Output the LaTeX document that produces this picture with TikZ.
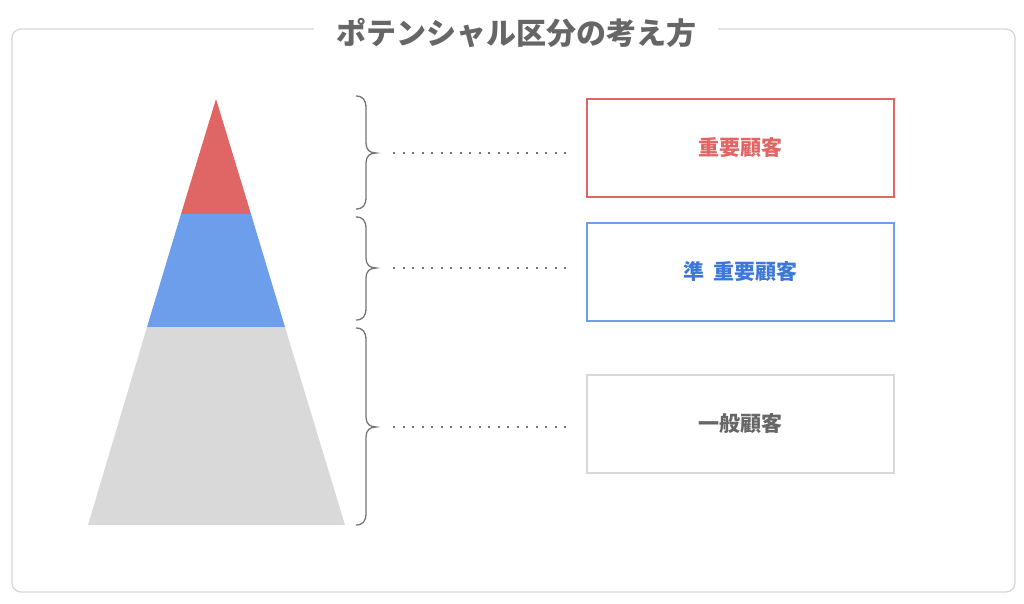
\documentclass[tikz,border=0pt]{standalone}
\usepackage{fontspec}
\newfontfamily\cjk{Noto Sans CJK JP}
\usetikzlibrary{calc}
\definecolor{cred}{HTML}{E06666}
\definecolor{cblue}{HTML}{6D9EEB}
\definecolor{cbluetext}{HTML}{3C78D8}
\definecolor{cgray}{HTML}{D9D9D9}
\definecolor{ctext}{HTML}{666666}
\definecolor{cframe}{HTML}{D6D6D6}
\tikzset{
  catbox/.style={draw=#1, line width=2pt, minimum width=307pt, minimum height=98pt, inner sep=0pt, font=\cjk\bfseries\fontsize{21}{25}\selectfont},
  bracepath/.style={draw=ctext!90, line width=1.3pt},
  dotline/.style={draw=ctext!90, line width=2.4pt, dash pattern=on 2.2pt off 7.3pt},
}
\begin{document}
\begin{tikzpicture}[x=1pt,y=-1pt]
\useasboundingbox (0,0) rectangle (1024,603);
% outer frame
\draw[cframe, line width=1.3pt, rounded corners=9pt] (12,29) rectangle (1015,592);
\node[fill=white, inner xsep=22pt, inner ysep=4pt, text=ctext, font=\cjk\bfseries\fontsize{30}{35}\selectfont] (title) at (516,33) {ポテンシャル区分の考え方};
% pyramid
\fill[cred] (216,99) -- (251,214) -- (181,214) -- cycle;
\fill[cblue] (181,214) -- (251,214) -- (285,327) -- (147,327) -- cycle;
\fill[cgray] (147,327) -- (285,327) -- (345,525) -- (88,525) -- cycle;
% braces
\draw[bracepath] (356,96) .. controls (363,96) and (366,100) .. (366,108) -- (366,143) .. controls (366,150) and (370,153) .. (376,153) .. controls (370,153) and (366,156) .. (366,163) -- (366,197) .. controls (366,205) and (363,209) .. (356,209);
\draw[bracepath] (356,217) .. controls (363,217) and (366,221) .. (366,229) -- (366,258) .. controls (366,265) and (370,268) .. (376,268) .. controls (370,268) and (366,271) .. (366,278) -- (366,308) .. controls (366,316) and (363,320) .. (356,320);
\draw[bracepath] (356,328) .. controls (363,328) and (366,332) .. (366,340) -- (366,417) .. controls (366,424) and (370,427) .. (376,427) .. controls (370,427) and (366,430) .. (366,437) -- (366,513) .. controls (366,521) and (363,525) .. (356,525);
% boxes
\node[catbox=cred, text=cred] (b1) at (740.5,148) {重要顧客};
\node[catbox=cblue, text=cbluetext] (b2) at (740.5,271.5) {準\hspace{0.45em}重要顧客};
\node[catbox=cgray, text=ctext] (b3) at (740.5,424) {一般顧客};
% dotted connectors
\coordinate (s1) at (393,153); \coordinate (e1) at (566,153);
\coordinate (s2) at (393,268); \coordinate (e2) at (566,268);
\coordinate (s3) at (393,427); \coordinate (e3) at (566,427);
\draw[dotline] (s1) -- (e1);
\draw[dotline] (s2) -- (e2);
\draw[dotline] (s3) -- (e3);
\end{tikzpicture}
\end{document}
